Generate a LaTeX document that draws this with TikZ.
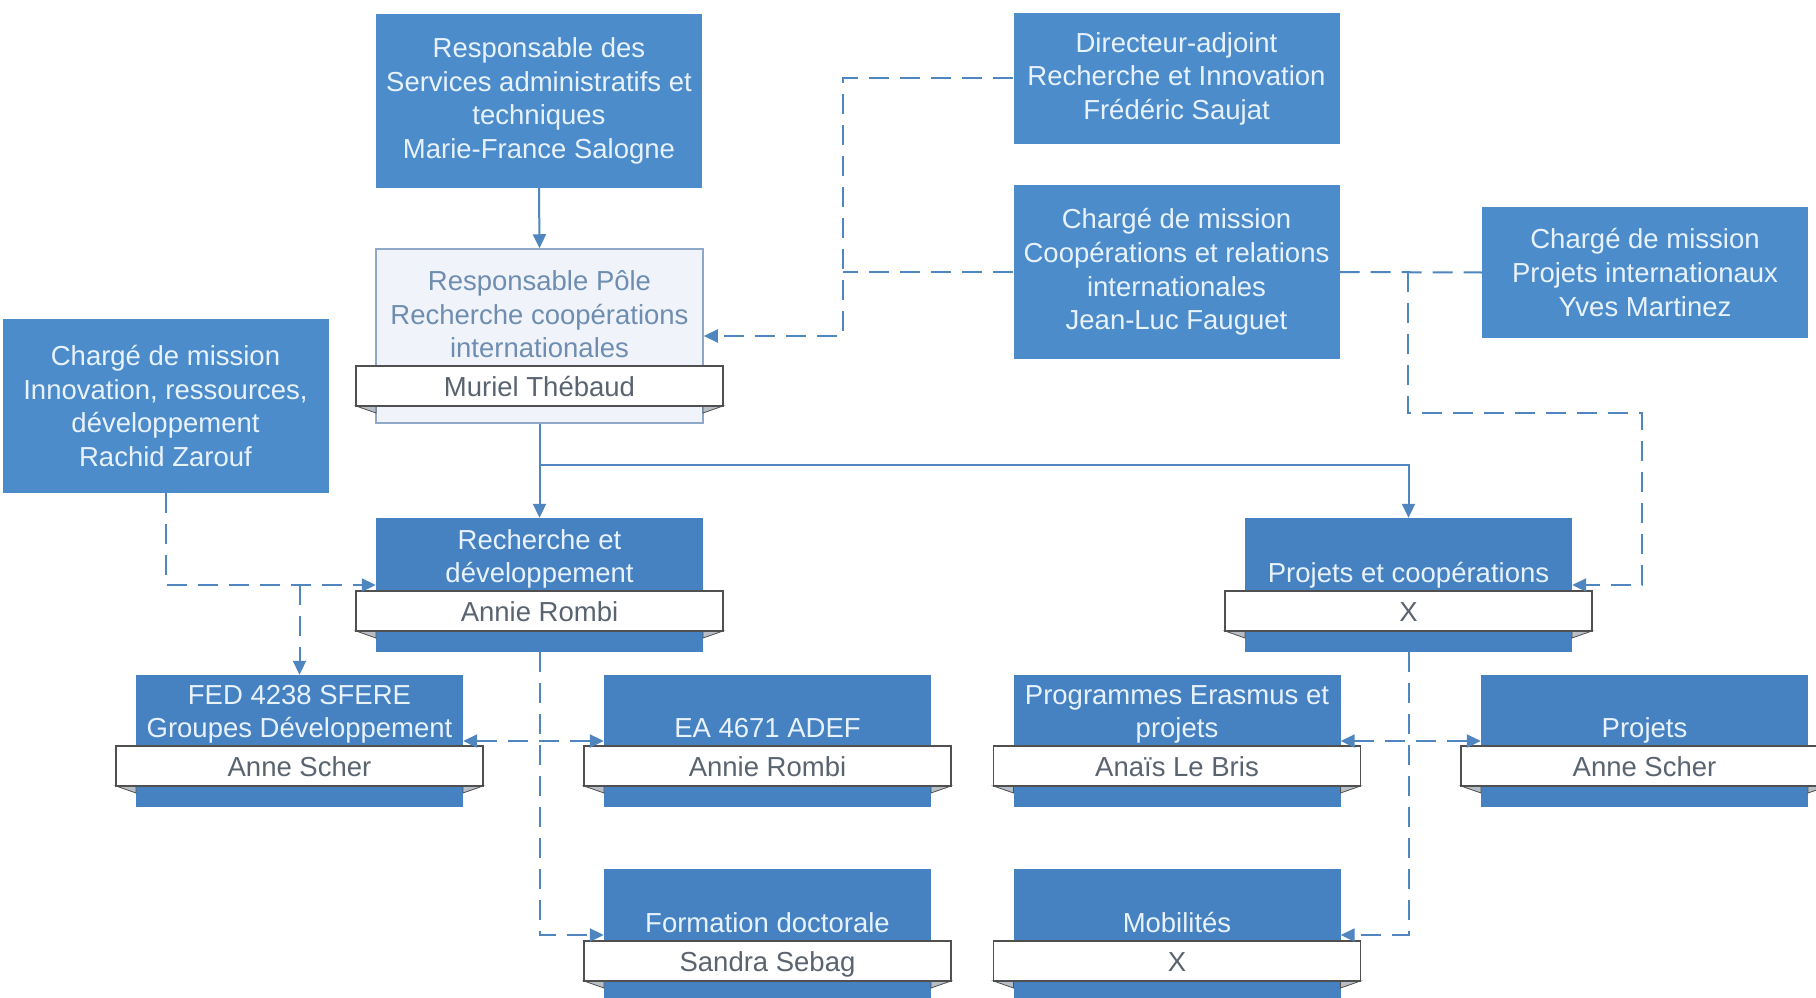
\documentclass[tikz,border=0pt]{standalone}
\usepackage{fontspec}
\setmainfont{Liberation Sans}
\usetikzlibrary{arrows.meta}
\definecolor{topblue}{HTML}{4C8CCB}
\definecolor{orgblue}{HTML}{4682C2}
\definecolor{boxtext}{HTML}{E8F2FC}
\definecolor{polefill}{HTML}{F0F4FA}
\definecolor{poleline}{HTML}{8FA8C8}
\definecolor{poletext}{HTML}{6E8DB0}
\definecolor{bannerline}{HTML}{505050}
\definecolor{bannertext}{HTML}{5A6470}
\definecolor{foldfill}{HTML}{B8BEC6}
\definecolor{conncol}{HTML}{4F86C0}
\tikzset{
  basetext/.style={rectangle, inner sep=0pt, align=center, font=\fontsize{27.5}{33.6}\selectfont},
  topbox/.style={basetext, fill=topblue, text=boxtext, minimum width=326pt},
  orgmain/.style={rectangle, inner sep=0pt, fill=orgblue, minimum width=327pt},
  polemain/.style={rectangle, inner sep=0pt, fill=polefill, draw=poleline, line width=1.5pt, minimum width=327pt},
  banner/.style={basetext, fill=white, draw=bannerline, line width=1.5pt, text=bannertext, minimum width=367pt, minimum height=40pt, text height=20pt, text depth=0pt},
  titletext/.style={basetext, text=boxtext, anchor=south, text depth=7pt},
  fold/.style={fill=foldfill, draw=bannerline, line width=0.8pt},
  tipA/.tip={Triangle[length=14pt,width=13pt]},
  conn/.style={draw=conncol, line width=2pt, -tipA},
  dline/.style={draw=conncol, line width=2pt, dash pattern=on 20pt off 11pt},
  dconn/.style={dline, -tipA},
  dboth/.style={dline, tipA-tipA},
}
\newcommand{\ribbonfold}[2]{%
  \filldraw[fold] ({#1-183.5},#2) -- ({#1-163.5},#2) -- ({#1-163.5},{#2+7}) -- cycle;
  \filldraw[fold] ({#1+183.5},#2) -- ({#1+163.5},#2) -- ({#1+163.5},{#2+7}) -- cycle;
}
\begin{document}
\begin{tikzpicture}[x=1pt,y=-1pt]
\useasboundingbox (0,0) rectangle (1816,998);
\clip (0,0) rectangle (1816,998);
\fill[white] (0,0) rectangle (1816,998);

% plain boxes
\node[topbox, minimum height=174pt] (A) at (539,101) {Responsable des\\Services administratifs et\\techniques\\Marie-France Salogne};
\node[topbox, minimum height=131pt] (B) at (1176.5,78.5) {Directeur-adjoint\\Recherche et Innovation\\Frédéric Saujat};
\node[topbox, minimum height=174pt] (C) at (1176.5,272) {Chargé de mission\\Coopérations et relations\\internationales\\Jean-Luc Fauguet};
\node[topbox, minimum height=131pt] (D) at (1645,272.5) {Chargé de mission\\Projets internationaux\\Yves Martinez};
\node[topbox, minimum height=174pt] (F) at (165.5,406) {Chargé de mission\\Innovation, ressources,\\développement\\Rachid Zarouf};

% Pole box
\node[polemain, minimum height=174pt] (E) at (539.5,336) {};
\ribbonfold{539.5}{406}
\node[banner] (Eb) at (539.5,386) {Muriel Thébaud};
\node[titletext, text=poletext] (Et) at (539.5,365) {Responsable Pôle\\Recherche coopérations\\internationales};

% Recherche et developpement
\node[orgmain, minimum height=134pt] (G) at (539.5,585) {};
\ribbonfold{539.5}{631}
\node[banner] (Gb) at (539.5,611) {Annie Rombi};
\node[titletext] (Gt) at (539.5,590) {Recherche et\\développement};

% Projets et cooperations
\node[orgmain, minimum height=134pt] (H) at (1408.5,585) {};
\ribbonfold{1408.5}{631}
\node[banner] (Hb) at (1408.5,611) {X};
\node[titletext] (Ht) at (1408.5,590) {Projets et coopérations};

% row 1
\node[orgmain, minimum height=132pt] (FED) at (299.5,741) {};
\ribbonfold{299.5}{786}
\node[banner] (FEDb) at (299.5,766) {Anne Scher};
\node[titletext] (FEDt) at (299.5,745) {FED 4238 SFERE\\Groupes Développement};

\node[orgmain, minimum height=132pt] (EA) at (767.5,741) {};
\ribbonfold{767.5}{786}
\node[banner] (EAb) at (767.5,766) {Annie Rombi};
\node[titletext] (EAt) at (767.5,745) {EA 4671 ADEF};

\node[orgmain, minimum height=132pt] (Prog) at (1177,741) {};
\ribbonfold{1177}{786}
\node[banner] (Progb) at (1177,766) {Anaïs Le Bris};
\node[titletext] (Progt) at (1177,745) {Programmes Erasmus et\\projets};

\node[orgmain, minimum height=132pt] (Proj) at (1644.5,741) {};
\ribbonfold{1644.5}{786}
\node[banner] (Projb) at (1644.5,766) {Anne Scher};
\node[titletext] (Projt) at (1644.5,745) {Projets};

% row 2
\node[orgmain, minimum height=132pt] (Form) at (767.5,935) {};
\ribbonfold{767.5}{981}
\node[banner] (Formb) at (767.5,961) {Sandra Sebag};
\node[titletext] (Formt) at (767.5,940) {Formation doctorale};

\node[orgmain, minimum height=132pt] (Mob) at (1177,935) {};
\ribbonfold{1177}{981}
\node[banner] (Mobb) at (1177,961) {X};
\node[titletext] (Mobt) at (1177,940) {Mobilités};

% junction coordinates
\coordinate (jB) at (843,80);
\coordinate (jE) at (539.5,465);
\coordinate (jCD) at (1408,272);
\coordinate (k1) at (1642,413);

% solid connectors
\draw[conn] (A.south) -- (E.north);
\draw[conn] (E.south) -- (G.north);
\draw[conn] (jE) -| (H.north);

% dashed connectors
\draw[dconn] (B.west) -| (jB |- E.east) -- (E.east);
\draw[dline] (C.west) -- (C.west -| jB);
\draw[dline] (C.east) -- (D.west);
\draw[dconn] (jCD) |- (k1) |- (H.east);
\draw[dconn] (F.south) |- (G.west);
\draw[dconn] (FED.north |- G.west) -- (FED.north);
\draw[dconn] (G.south) |- (Form.west);
\draw[dboth] (FED.east) -- (EA.west);
\draw[dconn] (H.south) |- (Mob.east);
\draw[dboth] (Prog.east) -- (Proj.west);
\end{tikzpicture}
\end{document}
